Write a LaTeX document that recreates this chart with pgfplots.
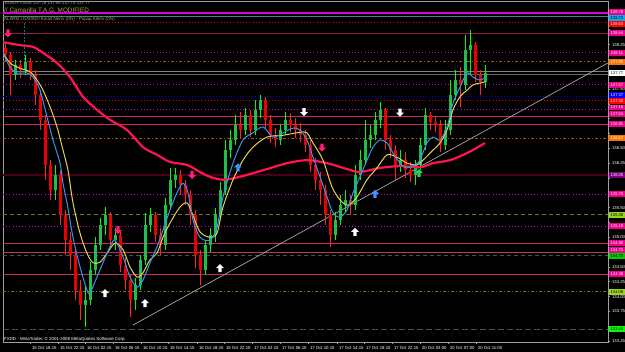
\documentclass[border=0pt]{standalone}
\usepackage{pgfplots}
\pgfplotsset{compat=1.18}
\usepackage{pgfplotstable}
\usepackage{fontspec}
\setmainfont{Liberation Sans}

\definecolor{upbody}{RGB}{30,190,80}
\definecolor{upwick}{RGB}{0,255,0}
\definecolor{dnbody}{RGB}{235,0,0}
\definecolor{dnwick}{RGB}{255,40,40}
\definecolor{maRed}{RGB}{255,20,80}
\definecolor{maYel}{RGB}{230,210,80}
\definecolor{maBlu}{RGB}{50,150,235}
\definecolor{mag}{RGB}{220,0,220}
\definecolor{pinkl}{RGB}{200,40,110}
\definecolor{brownl}{RGB}{170,80,20}
\definecolor{olivel}{RGB}{110,120,40}
\definecolor{dgreenl}{RGB}{50,100,50}
\definecolor{maroonl}{RGB}{150,30,70}
\definecolor{darkmar}{RGB}{70,0,25}
\definecolor{arrPink}{RGB}{255,30,120}
\definecolor{arrBlue}{RGB}{60,150,255}
\definecolor{arrGreen}{RGB}{40,210,90}
\definecolor{txtOlive}{RGB}{170,170,60}

\pgfdeclareplotmark{uarr}{%
  \pgfpathmoveto{\pgfqpoint{0pt}{\pgfplotmarksize}}%
  \pgfpathlineto{\pgfqpoint{\pgfplotmarksize}{0pt}}%
  \pgfpathlineto{\pgfqpoint{0.4\pgfplotmarksize}{0pt}}%
  \pgfpathlineto{\pgfqpoint{0.4\pgfplotmarksize}{-\pgfplotmarksize}}%
  \pgfpathlineto{\pgfqpoint{-0.4\pgfplotmarksize}{-\pgfplotmarksize}}%
  \pgfpathlineto{\pgfqpoint{-0.4\pgfplotmarksize}{0pt}}%
  \pgfpathlineto{\pgfqpoint{-\pgfplotmarksize}{0pt}}%
  \pgfpathclose\pgfusepathqfill}
\pgfdeclareplotmark{darr}{%
  \pgfpathmoveto{\pgfqpoint{0pt}{-\pgfplotmarksize}}%
  \pgfpathlineto{\pgfqpoint{\pgfplotmarksize}{0pt}}%
  \pgfpathlineto{\pgfqpoint{0.4\pgfplotmarksize}{0pt}}%
  \pgfpathlineto{\pgfqpoint{0.4\pgfplotmarksize}{\pgfplotmarksize}}%
  \pgfpathlineto{\pgfqpoint{-0.4\pgfplotmarksize}{\pgfplotmarksize}}%
  \pgfpathlineto{\pgfqpoint{-0.4\pgfplotmarksize}{0pt}}%
  \pgfpathlineto{\pgfqpoint{-\pgfplotmarksize}{0pt}}%
  \pgfpathclose\pgfusepathqfill}

% candles: x open close high low
\pgfplotstableread{
x o c h l
15 137.74 137.90 137.99 137.65
25 137.82 137.96 138.07 137.74
55 135.80 136.05 136.22 135.63
85 133.86 133.94 134.19 133.49
90 133.94 134.45 134.58 133.86
95 134.45 134.87 135.00 134.36
100 134.87 135.21 135.32 134.79
105 135.21 135.38 135.51 135.04
115 134.95 135.04 135.16 134.79
135 133.94 134.19 134.31 133.77
140 134.19 134.62 134.70 134.11
145 134.62 135.21 135.41 134.53
150 135.21 135.38 135.49 135.09
165 134.87 135.54 135.66 134.79
170 135.54 135.97 136.17 135.46
175 135.97 136.05 136.17 135.83
205 134.45 134.87 134.95 134.36
210 134.87 135.04 135.16 134.75
215 135.04 135.38 135.49 134.92
220 135.38 135.80 135.93 135.29
225 135.80 136.47 136.64 135.71
230 136.47 136.64 136.81 136.34
235 136.64 136.89 137.06 136.56
245 136.81 137.06 137.18 136.72
255 136.81 137.15 137.31 136.72
260 137.15 137.31 137.40 137.01
280 136.64 136.81 136.91 136.56
285 136.81 136.98 137.11 136.72
335 135.04 135.29 135.43 134.95
340 135.29 135.54 135.71 135.21
345 135.54 135.63 135.80 135.43
355 135.54 136.05 136.22 135.46
360 136.05 136.30 136.47 135.97
365 136.30 136.64 136.98 136.22
370 136.64 136.72 136.89 136.51
375 136.72 136.98 137.11 136.64
380 136.98 137.15 137.28 136.84
400 136.22 136.30 136.47 136.10
415 136.05 136.22 136.30 135.88
420 136.22 136.56 136.67 136.13
425 136.56 137.06 137.18 136.47
445 136.56 136.81 136.98 136.47
450 136.81 137.40 137.65 136.72
455 137.40 137.65 137.82 137.31
465 137.57 138.16 138.41 137.48
470 138.16 138.24 138.49 137.74
485 137.62 137.77 137.90 137.52
}\upcandles

\pgfplotstableread{
x o c h l
5 138.19 138.07 138.29 137.96
10 138.07 137.74 138.12 137.40
20 137.90 137.82 137.99 137.69
30 137.96 137.74 138.02 137.65
35 137.74 137.40 137.82 137.23
40 137.40 136.98 137.48 136.81
45 136.98 136.22 137.06 135.97
50 136.22 135.80 136.30 135.63
60 136.05 135.38 136.13 135.21
65 135.38 134.95 135.46 134.70
70 134.95 134.70 135.09 134.45
75 134.70 134.11 134.79 133.94
80 134.11 133.86 134.28 133.60
110 135.38 134.95 135.43 134.82
120 135.04 134.53 135.09 134.41
125 134.53 134.28 134.65 134.11
130 134.28 133.94 134.36 133.66
155 135.38 135.04 135.43 134.92
160 135.04 134.87 135.16 134.70
180 136.05 135.88 136.13 135.71
185 135.88 135.71 135.97 135.54
190 135.71 135.38 135.80 135.21
195 135.38 134.70 135.46 134.48
200 134.70 134.45 134.79 134.19
240 136.89 136.81 137.11 136.67
250 137.06 136.81 137.15 136.69
265 137.31 136.98 137.37 136.84
270 136.98 136.72 137.06 136.59
275 136.72 136.64 136.84 136.52
290 136.98 136.89 137.10 136.77
295 136.89 136.81 137.01 136.67
300 136.81 136.72 136.93 136.61
305 136.72 136.56 136.81 136.44
310 136.56 136.22 136.64 136.10
315 136.22 135.97 136.34 135.80
320 135.97 135.80 136.10 135.54
325 135.80 135.38 135.88 135.21
330 135.38 135.04 135.46 134.84
350 135.63 135.54 135.71 135.38
385 137.15 136.64 137.18 136.47
390 136.64 136.47 136.72 136.34
395 136.47 136.22 136.56 135.97
405 136.30 136.13 136.44 136.00
410 136.13 136.05 136.27 135.93
430 137.06 136.94 137.11 136.81
435 136.94 136.89 137.03 136.77
440 136.89 136.56 136.98 136.44
460 137.65 137.57 137.87 137.20
475 138.24 137.74 138.29 137.62
480 137.74 137.62 137.82 137.40
}\dncandles

\tikzset{
  rbox/.style={anchor=west, xshift=1bp, inner sep=0pt, minimum width=15.5bp, minimum height=5.6bp,
     text height=3bp, text depth=0pt,
     font=\fontsize{4.1}{4.5}\selectfont, fill=#1},
  hl/.style={line width=0.8bp},
  dotl/.style={line width=0.9bp, dash pattern=on 1bp off 2.2bp},
  dashl/.style={line width=0.8bp, dash pattern=on 4bp off 3bp},
  ddot/.style={line width=0.8bp, dash pattern=on 3bp off 2bp on 1bp off 2bp},
}

\begin{document}
\begin{tikzpicture}
\path[use as bounding box, fill=black] (0,0) rectangle (625bp,352bp);
\begin{axis}[
  at={(3bp,10bp)}, anchor=south west, scale only axis,
  width=605bp, height=341bp,
  xmin=3, xmax=608, ymin=133.234, ymax=138.984,
  axis background/.style={fill=black},
  axis line style={draw=gray!75, line width=0.6bp},
  clip mode=individual,
  unbounded coords=jump,
  ytick pos=right, xtick pos=bottom,
  tick align=outside, major tick length=2bp,
  tick style={draw=gray!75, line width=0.5bp},
  ytick={133.25,133.5,133.75,134,134.25,134.5,134.75,135,135.25,135.5,135.75,136,136.25,136.5,136.75,137,137.25,137.5,137.75,138,138.25,138.5,138.75},
  yticklabels={133.25,,133.75,134.00,134.25,134.50,,135.00,,135.50,,,136.25,136.50,,,,137.50,,,138.25,,},
  xtick={2,30,58,85,113,141,168,197,224,252,280,308,337,364,392,420,448,476},
  xticklabels={15 Oct 2008,15 Oct 18:15,15 Oct 22:15,16 Oct 02:15,16 Oct 06:15,16 Oct 10:15,16 Oct 14:15,16 Oct 18:15,16 Oct 22:15,17 Oct 02:15,17 Oct 06:15,17 Oct 10:15,17 Oct 14:15,17 Oct 18:15,17 Oct 22:15,20 Oct 03:00,20 Oct 07:00,20 Oct 11:00},
  ticklabel style={font=\fontsize{4.3}{5}\selectfont, text=white},
  yticklabel style={anchor=west, xshift=-1.5bp},
  xticklabel style={anchor=north west, xshift=-1.5bp, yshift=1bp},
]
% horizontal level lines
\addplot[mag, line width=2.4bp] coordinates {(3,138.78)(608,138.78)};
\addplot[cyan!55!black, line width=0.6bp] coordinates {(3,138.73)(608,138.73)};
\addplot[red, dotl] coordinates {(3,138.63)(608,138.63)};
\addplot[maroonl, hl] coordinates {(3,138.44)(608,138.44)};
\addplot[mag, dotl] coordinates {(3,138.11)(608,138.11)};
\addplot[brownl, ddot] coordinates {(3,137.96)(608,137.96)};
\addplot[gray, line width=0.7bp] coordinates {(3,137.79)(608,137.79)};
\addplot[gray!80!black, line width=0.7bp] coordinates {(3,137.74)(608,137.74)};
\addplot[mag, dotl] coordinates {(3,137.57)(608,137.57)};
\addplot[blue, line width=1.5bp, dash pattern=on 1.2bp off 1.8bp] coordinates {(3,137.37)(608,137.37)};
\addplot[red!85!black, dotl] coordinates {(3,137.30)(608,137.30)};
\addplot[mag, dotl] coordinates {(3,137.16)(608,137.16)};
\addplot[pinkl, hl] coordinates {(3,137.04)(608,137.04)};
\addplot[pinkl, hl] coordinates {(3,136.91)(608,136.91)};
\addplot[brownl, ddot] coordinates {(3,136.67)(608,136.67)};
\addplot[darkmar, line width=1.8bp] coordinates {(3,136.05)(608,136.05)};
\addplot[mag, dotl] coordinates {(3,135.73)(608,135.73)};
\addplot[olivel, dashl] coordinates {(3,135.38)(608,135.38)};
\addplot[mag, dotl] coordinates {(3,135.19)(608,135.19)};
\addplot[pinkl, hl] coordinates {(3,134.90)(608,134.90)};
\addplot[pinkl, hl] coordinates {(3,134.75)(608,134.75)};
\addplot[dgreenl, dashl] coordinates {(3,134.70)(608,134.70)};
\addplot[pinkl, hl] coordinates {(3,134.38)(608,134.38)};
\addplot[olivel, ddot] coordinates {(3,134.08)(608,134.08)};
\addplot[dgreenl, line width=0.9bp, dash pattern=on 6bp off 3bp] coordinates {(3,133.45)(608,133.45)};
\addplot[teal, line width=0.7bp, dash pattern=on 2bp off 1.5bp] coordinates {(24,138.62)(24,137.90)};

% trend line
\addplot[gray!70!white, line width=0.7bp] coordinates {(133,133.52)(608,137.94)};

% candles: wicks and bodies
\addplot[draw=none, mark=none, forget plot, error bars/.cd, y dir=plus, y explicit, error mark=none,
  error bar style={draw=upwick, line width=0.7bp}]
  table[x=x, y=l, y error plus expr={\thisrow{h}-\thisrow{l}}] {\upcandles};
\addplot[draw=none, mark=none, forget plot, error bars/.cd, y dir=plus, y explicit, error mark=none,
  error bar style={draw=upbody, line width=3bp}]
  table[x=x, y=o, y error plus expr={\thisrow{c}-\thisrow{o}}] {\upcandles};
\addplot[draw=none, mark=none, forget plot, error bars/.cd, y dir=plus, y explicit, error mark=none,
  error bar style={draw=dnwick, line width=0.7bp}]
  table[x=x, y=l, y error plus expr={\thisrow{h}-\thisrow{l}}] {\dncandles};
\addplot[draw=none, mark=none, forget plot, error bars/.cd, y dir=plus, y explicit, error mark=none,
  error bar style={draw=dnbody, line width=3bp}]
  table[x=x, y=c, y error plus expr={\thisrow{o}-\thisrow{c}}] {\dncandles};

% moving averages
\addplot[maRed, line width=2.2bp, smooth] coordinates {
(3,138.29)(20,138.24)(33,138.21)(43,138.11)(57,137.94)(70,137.70)(83,137.37)(97,137.15)
(110,136.98)(127,136.81)(143,136.52)(157,136.39)(170,136.27)(187,136.22)(200,136.10)(210,136.02)
(223,135.97)(240,136.02)(267,136.15)(287,136.25)(307,136.30)(327,136.25)(347,136.15)(360,136.10)
(380,136.17)(400,136.20)(420,136.18)(433,136.25)(450,136.30)(467,136.42)(477,136.51)(485,136.59)};
\addplot[maYel, line width=1bp, smooth] coordinates {
(3,138.11)(10,137.94)(20,137.85)(30,137.79)(37,137.65)(43,137.48)(50,137.20)(57,136.86)(63,136.47)
(68,136.13)(73,135.58)(80,135.07)(87,134.73)(93,134.57)(100,134.58)(107,134.73)(115,134.90)
(123,134.79)(130,134.50)(137,134.33)(143,134.40)(150,134.62)(157,134.73)(163,135.00)(170,135.24)
(180,135.51)(187,135.58)(192,135.41)(200,135.09)(210,135.00)(217,135.07)(223,135.51)(233,135.97)
(243,136.30)(253,136.52)(267,136.69)(283,136.72)(300,136.77)(307,136.76)(313,136.59)(323,136.30)
(332,135.85)(340,135.63)(348,135.54)(357,135.68)(367,135.97)(377,136.17)(387,136.39)(397,136.35)
(407,136.25)(417,136.22)(423,136.30)(433,136.47)(440,136.59)(447,136.81)(453,137.15)(460,137.37)
(467,137.48)(473,137.57)(480,137.60)(485,137.62)};
\addplot[maBlu, line width=1bp, smooth] coordinates {
(3,138.11)(10,137.87)(17,137.77)(27,137.77)(33,137.70)(40,137.48)(47,137.03)(53,136.64)(60,136.25)
(63,135.91)(67,135.58)(73,135.00)(80,134.50)(87,134.11)(90,134.06)(97,134.33)(103,134.57)
(110,134.84)(115,134.95)(123,134.67)(130,134.33)(137,134.16)(143,134.28)(150,134.57)(157,134.84)
(163,135.12)(170,135.46)(177,135.75)(183,135.91)(188,135.75)(193,135.29)(200,135.00)(210,134.95)
(217,135.17)(223,135.68)(233,136.25)(243,136.64)(253,136.76)(263,136.86)(273,136.69)(283,136.76)
(293,136.84)(300,136.81)(307,136.64)(313,136.35)(320,136.02)(327,135.68)(333,135.41)(340,135.34)
(347,135.46)(353,135.75)(360,136.02)(367,136.30)(373,136.52)(380,136.64)(387,136.59)(393,136.42)
(400,136.25)(407,136.17)(417,136.25)(420,136.30)(427,136.59)(433,136.69)(440,136.64)(447,136.86)
(453,137.26)(460,137.53)(467,137.77)(473,137.70)(480,137.65)(485,137.69)};

% signal arrows
\addplot[only marks, mark=darr, mark size=4bp, color=arrPink] coordinates {(8,138.44)(118,135.12)(192,136.05)(322,136.51)};
\addplot[only marks, mark=uarr, mark size=4bp, color=white] coordinates {(105,134.06)(145,133.89)(220,134.48)(355,135.09)};
\addplot[only marks, mark=uarr, mark size=4bp, color=arrBlue] coordinates {(238,136.18)(375,135.73)};
\addplot[only marks, mark=darr, mark size=4bp, color=white] coordinates {(304,137.11)(400,137.10)};
\addplot[only marks, mark=uarr, mark size=4bp, color=arrGreen] coordinates {(419,136.08)};

% right-hand price boxes
\node[rbox=magenta, text=white] at (axis cs:608,138.80) {138.78};
\node[rbox=cyan, text=black] at (axis cs:608,138.70) {138.73};
\node[rbox=red, text=white] at (axis cs:608,138.60) {138.63};
\node[rbox=magenta, text=white] at (axis cs:608,138.44) {138.44};
\node[rbox=magenta, text=white] at (axis cs:608,138.11) {138.11};
\node[rbox=orange!90!red, text=white] at (axis cs:608,137.96) {137.96};
\node[rbox=white, text=black] at (axis cs:608,137.77) {137.77};
\node[rbox=magenta, text=white] at (axis cs:608,137.57) {137.57};
\node[rbox=blue, text=white] at (axis cs:608,137.40) {137.37};
\node[rbox=red, text=white] at (axis cs:608,137.30) {137.30};
\node[rbox=magenta, text=white] at (axis cs:608,137.19) {137.16};
\node[rbox=magenta, text=white] at (axis cs:608,137.08) {137.04};
\node[rbox=magenta, text=white] at (axis cs:608,136.91) {136.91};
\node[rbox=orange!90!red, text=white] at (axis cs:608,136.67) {136.67};
\node[rbox=violet, text=white] at (axis cs:608,136.05) {136.05};
\node[rbox=magenta, text=white] at (axis cs:608,135.73) {135.73};
\node[rbox=yellow!60!green, text=black] at (axis cs:608,135.38) {135.38};
\node[rbox=magenta, text=white] at (axis cs:608,135.19) {135.19};
\node[rbox=magenta, text=white] at (axis cs:608,134.90) {134.90};
\node[rbox=magenta, text=white] at (axis cs:608,134.79) {134.75};
\node[rbox=green!80!black, text=black] at (axis cs:608,134.68) {134.70};
\node[rbox=magenta, text=white] at (axis cs:608,134.38) {134.38};
\node[rbox=yellow!60!green, text=black] at (axis cs:608,134.08) {134.08};
\node[rbox=green, text=black] at (axis cs:608,133.45) {133.45};
\end{axis}

% header and footer texts
\node[anchor=west, inner sep=0pt, text=gray!80!white, font=\fontsize{4.4}{5}\selectfont] at (5bp,348.5bp) {EURJPY,M15 137.76 137.80 137.74 137.77};
\node[anchor=west, inner sep=0pt, text=txtOlive, font=\fontsize{6.4}{7}\selectfont] at (4bp,341.5bp) {// Camarilla T.A.G. MODIFIED};
\node[anchor=west, inner sep=0pt, text=txtOlive, font=\fontsize{4.4}{5}\selectfont] at (4bp,333bp) {ALARM LOADED! Email Alerts (ON) - Popup Alerts (ON)};
\node[anchor=west, inner sep=0pt, text=white, font=\fontsize{4.4}{5}\selectfont] at (4bp,13bp) {FXDD - MetaTrader, © 2001-2008 MetaQuotes Software Corp.};
\end{tikzpicture}
\end{document}
